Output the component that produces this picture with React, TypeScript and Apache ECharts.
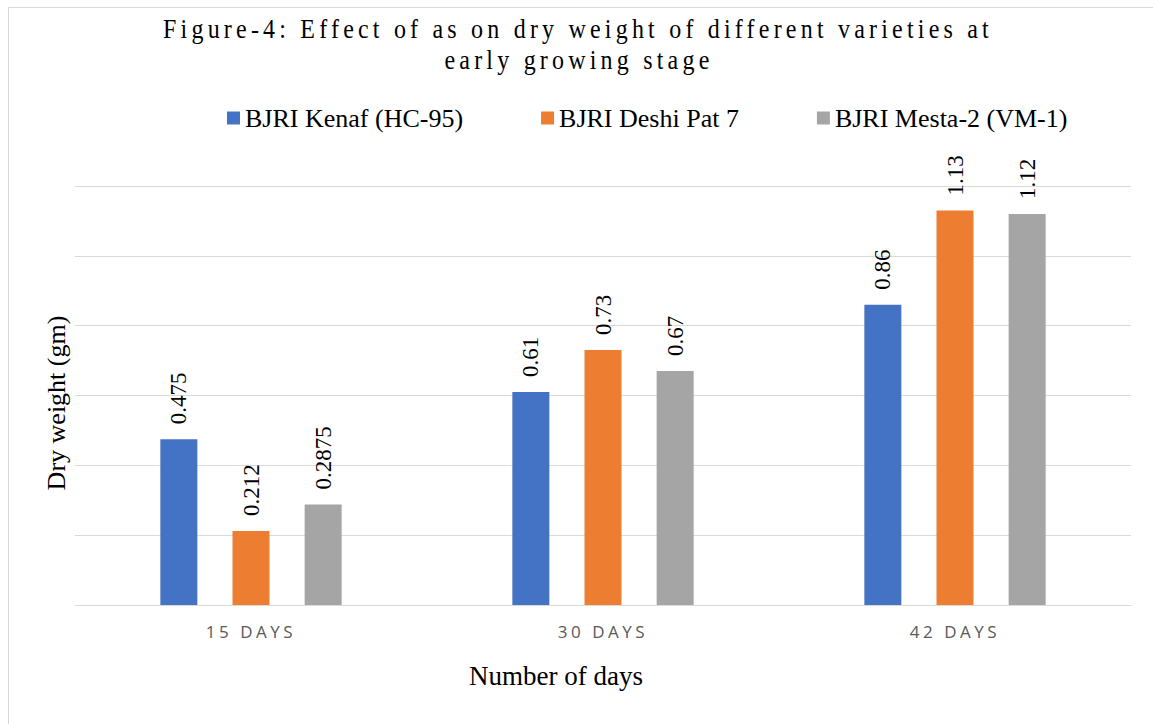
import React, { useEffect, useRef } from "react";
import * as echarts from "echarts";

const categories = ["15 DAYS", "30 DAYS", "42 DAYS"];
const seriesNames = ["BJRI Kenaf (HC-95)", "BJRI Deshi Pat 7", "BJRI Mesta-2 (VM-1)"];
const kenaf = [0.475, 0.61, 0.86];
const deshi = [0.212, 0.73, 1.13];
const mesta = [0.2875, 0.67, 1.12];
const colors = ["#4472C4", "#ED7D31", "#A5A5A5"];
const titleLines = ["Figure-4: Effect of as on dry weight of different varieties at", "early growing stage"];
const xTitle = "Number of days";
const yTitle = "Dry weight (gm)";

const SERIF = "Liberation Serif";

export default function App() {
  const ref = useRef<HTMLDivElement>(null);
  useEffect(() => {
    document.body.style.margin = "0";
    document.body.style.overflow = "hidden";
    const el = ref.current!;
    const chart = echarts.init(el, null, { renderer: "svg" });
    const values = [kenaf, deshi, mesta];
    const option: any = {
      animation: false,
      backgroundColor: "#ffffff",
      textStyle: { fontFamily: SERIF },
      legend: {
        left: 222,
        top: 100,
        itemWidth: 13,
        itemHeight: 13,
        itemGap: 78,
        icon: "rect",
        textStyle: { fontFamily: SERIF, fontSize: 26, color: "#000000" },
        data: seriesNames,
      },
      grid: { left: 75, right: 22, top: 186, bottom: 119, containLabel: false },
      xAxis: {
        type: "category",
        data: categories,
        axisLine: { show: true, lineStyle: { color: "#D9D9D9", width: 1 } },
        axisTick: { show: false },
        axisLabel: {
          margin: 18,
          fontFamily: "Open Sans",
          fontSize: 17,
          color: "#595959",
        },
      },
      yAxis: {
        type: "value",
        min: 0,
        max: 1.2,
        interval: 0.2,
        axisLabel: { show: false },
        axisLine: { show: false },
        axisTick: { show: false },
        splitLine: { show: true, lineStyle: { color: "#D9D9D9", width: 1 } },
      },
      series: seriesNames.map((name, i) => ({
        name,
        type: "bar",
        data: values[i],
        barWidth: 37,
        barGap: "95%",
        itemStyle: { color: colors[i] },
        label: {
          show: true,
          position: "top",
          rotate: 90,
          align: "left",
          verticalAlign: "middle",
          distance: 15,
          fontFamily: SERIF,
          fontSize: 23,
          color: "#000000",
        },
      })),
      graphic: [
        {
          type: "rect",
          silent: true,
          shape: { x: 8.5, y: 7.5, width: 2000, height: 2000 },
          style: { fill: "none", stroke: "#D9D9D9", lineWidth: 1 },
        },
        {
          type: "text",
          x: 578,
          y: 29,
          scaleY: 1.15,
          style: {
            text: titleLines[0],
            fontFamily: SERIF,
            fontSize: 24,
            fill: "#000000",
            textAlign: "center",
            textVerticalAlign: "middle",
          },
        },
        {
          type: "text",
          x: 579,
          y: 60,
          scaleY: 1.15,
          style: {
            text: titleLines[1],
            fontFamily: SERIF,
            fontSize: 24,
            fill: "#000000",
            textAlign: "center",
            textVerticalAlign: "middle",
          },
        },
        {
          type: "text",
          x: 556,
          y: 676,
          style: {
            text: xTitle,
            fontFamily: SERIF,
            fontSize: 27,
            fill: "#000000",
            textAlign: "center",
            textVerticalAlign: "middle",
          },
        },
        {
          type: "text",
          x: 56,
          y: 403,
          rotation: Math.PI / 2,
          style: {
            text: yTitle,
            fontFamily: SERIF,
            fontSize: 26,
            fill: "#000000",
            textAlign: "center",
            textVerticalAlign: "middle",
          },
        },
      ],
    };
    chart.setOption(option);
    const applySpacing = () => {
      el.querySelectorAll("text").forEach((t) => {
        const s = t.textContent || "";
        const st = (t as any).style;
        if (s === titleLines[0] || s === titleLines[1]) {
          st.letterSpacing = "4.2px";
        } else if (categories.includes(s)) {
          st.letterSpacing = "3.5px";
          st.fontFamily = "'Open Sans', sans-serif";
        } else {
          st.fontFamily = "'Liberation Serif', serif";
        }
      });
    };
    applySpacing();
    chart.on("finished", applySpacing);
    return () => {
      chart.dispose();
    };
  }, []);
  return <div ref={ref} style={{ width: 1153, height: 724 }} />;
}
